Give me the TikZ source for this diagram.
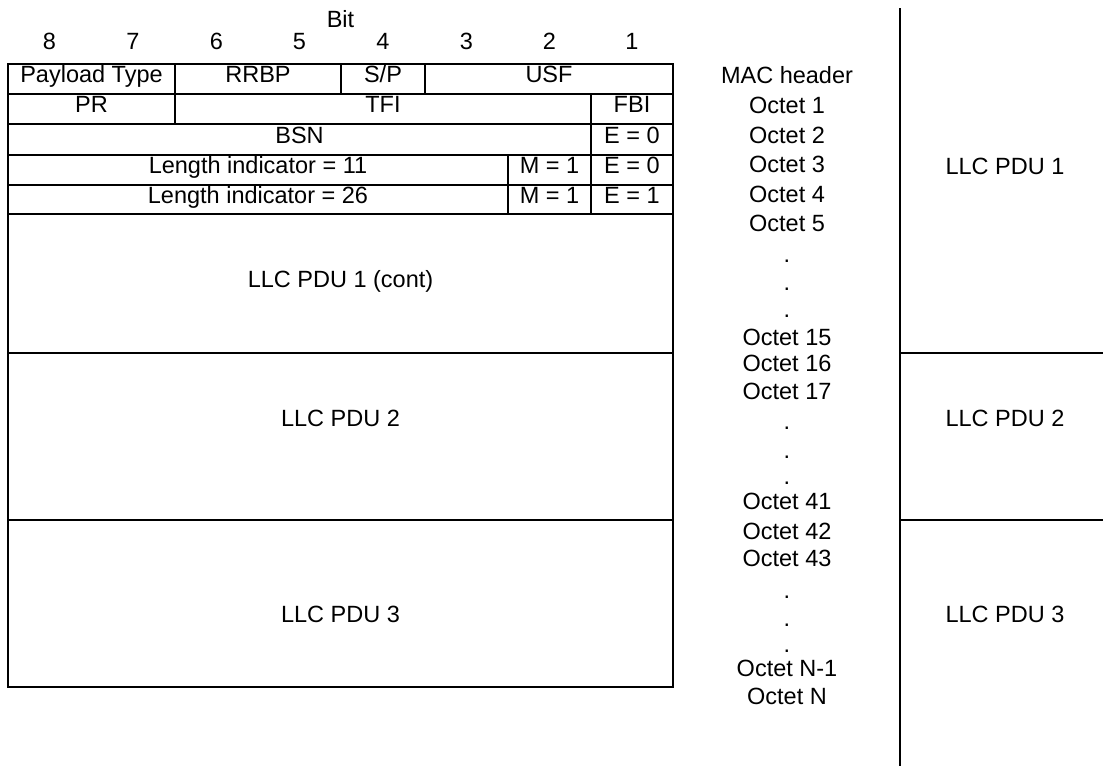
\documentclass[tikz,border=0pt]{standalone}
\usepackage{fontspec}
\setmainfont{Liberation Sans}
\usetikzlibrary{positioning}

\begin{document}
\begin{tikzpicture}[
  x=1pt, y=-1pt,
  font=\fontsize{23.5pt}{28pt}\selectfont,
  cell/.style={draw, line width=2pt, anchor=north west, inner sep=0pt, outer sep=0pt,
               text height=0.72em, text depth=0pt},
  lbl/.style={inner sep=0pt, text height=0.72em, text depth=0pt},
  dotlbl/.style={inner sep=0pt, anchor=base},
  sep/.style={line width=2pt}
]
\useasboundingbox (0,0) rectangle (1103,766);

%% ---- Bit numbers ----
\node[lbl] (bit) at (340.5,23.5) {Bit};
\node[lbl] (b8) at (49.5,45.5)  {8};
\node[lbl] (b7) at (133,45.5)   {7};
\node[lbl] (b6) at (216.5,45.5) {6};
\node[lbl] (b5) at (299.5,45.5) {5};
\node[lbl] (b4) at (383,45.5)   {4};
\node[lbl] (b3) at (466.5,45.5) {3};
\node[lbl] (b2) at (549.5,45.5) {2};
\node[lbl] (b1) at (632,45.5)   {1};

%% ---- MAC header rows ----
\node[cell, minimum width=167pt, minimum height=30pt] (ptype) at (8,64)  {Payload Type};
\node[cell, minimum width=166pt, minimum height=30pt] (rrbp)  at (175,64) {RRBP};
\node[cell, minimum width=84pt,  minimum height=30pt] (sp)    at (341,64) {S/P};
\node[cell, minimum width=248pt, minimum height=30pt] (usf)   at (425,64) {USF};

\node[cell, minimum width=167pt, minimum height=30pt] (pr)  at (8,94)   {PR};
\node[cell, minimum width=416pt, minimum height=30pt] (tfi) at (175,94) {TFI};
\node[cell, minimum width=82pt,  minimum height=30pt] (fbi) at (591,94) {FBI};

\node[cell, minimum width=583pt, minimum height=31pt] (bsn)  at (8,124)   {BSN};
\node[cell, minimum width=82pt,  minimum height=31pt] (ebsn) at (591,124) {E = 0};

\node[cell, minimum width=500pt, minimum height=30pt] (li1) at (8,155)   {Length indicator = 11};
\node[cell, minimum width=83pt,  minimum height=30pt] (m1)  at (508,155) {M = 1};
\node[cell, minimum width=82pt,  minimum height=30pt] (e1)  at (591,155) {E = 0};

\node[cell, minimum width=500pt, minimum height=29pt] (li2) at (8,185)   {Length indicator = 26};
\node[cell, minimum width=83pt,  minimum height=29pt] (m2)  at (508,185) {M = 1};
\node[cell, minimum width=82pt,  minimum height=29pt] (e2)  at (591,185) {E = 1};

%% ---- LLC PDUs in the block ----
\node[cell, minimum width=665pt, minimum height=139pt] (pdu1) at (8,214) {LLC PDU 1 (cont)};
\node[cell, minimum width=665pt, minimum height=167pt] (pdu2) at (8,353) {};
\node[cell, minimum width=665pt, minimum height=167pt] (pdu3) at (8,520) {};
\node[lbl] (pdu2txt) at (340.5,423) {LLC PDU 2};
\node[lbl] (pdu3txt) at (340.5,619) {LLC PDU 3};

%% ---- Octet column ----
\node[lbl] (mac) at (787,80)  {MAC header};
\node[lbl] (o1)  at (787,110) {Octet 1};
\node[lbl] (o2)  at (787,140) {Octet 2};
\node[lbl] (o3)  at (787,169) {Octet 3};
\node[lbl] (o4)  at (787,199) {Octet 4};
\node[lbl] (o5)  at (787,228) {Octet 5};
\node[dotlbl] (d1a) at (787,262) {.};
\node[dotlbl] (d1b) at (787,290) {.};
\node[dotlbl] (d1c) at (787,317) {.};
\node[lbl] (o15) at (787,342) {Octet 15};
\node[lbl] (o16) at (787,368) {Octet 16};
\node[lbl] (o17) at (787,396) {Octet 17};
\node[dotlbl] (d2a) at (787,429) {.};
\node[dotlbl] (d2b) at (787,458) {.};
\node[dotlbl] (d2c) at (787,484) {.};
\node[lbl] (o41) at (787,506) {Octet 41};
\node[lbl] (o42) at (787,536) {Octet 42};
\node[lbl] (o43) at (787,563) {Octet 43};
\node[dotlbl] (d3a) at (787,598) {.};
\node[dotlbl] (d3b) at (787,626) {.};
\node[dotlbl] (d3c) at (787,652) {.};
\node[lbl] (on1) at (787,673) {Octet N-1};
\node[lbl] (on)  at (787,701) {Octet N};

%% ---- Right column ----
\coordinate (vtop) at (900,8);
\coordinate (vbot) at (900,766);
\coordinate (h1a) at (900,353);  \coordinate (h1b) at (1103,353);
\coordinate (h2a) at (900,520);  \coordinate (h2b) at (1103,520);
\draw[sep] (vtop) -- (vbot);
\draw[sep] (h1a) -- (h1b);
\draw[sep] (h2a) -- (h2b);
\node[lbl] (llc1) at (1005,171) {LLC PDU 1};
\node[lbl] (llc2) at (1005,423) {LLC PDU 2};
\node[lbl] (llc3) at (1005,619) {LLC PDU 3};
\end{tikzpicture}
\end{document}
